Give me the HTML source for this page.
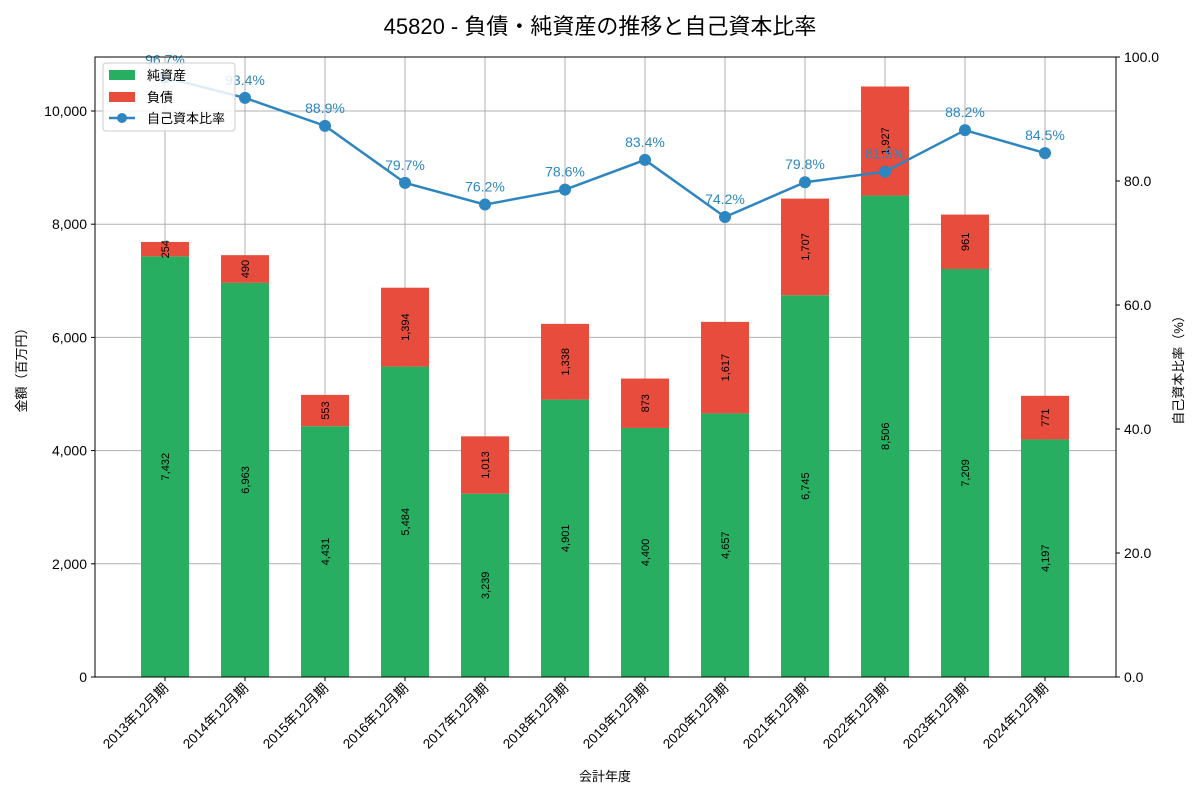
<!DOCTYPE html>
<html><head><meta charset="utf-8">
<style>
body{margin:0;background:#fff;}
svg text{font-family:"Liberation Sans","Noto Sans CJK JP",sans-serif;}
</style></head>
<body>
<svg id="chart" width="1200" height="800" xmlns="http://www.w3.org/2000/svg">
<text x="600" y="34" text-anchor="middle" font-size="22" fill="#000">45820 - 負債・純資産の推移と自己資本比率</text>
<g id="grid"></g>
<g id="bars"></g>
<g id="line"></g>
<rect x="95" y="57" width="1021" height="620" fill="none" stroke="#000" stroke-width="1"/>
<g id="axes"></g>
<text x="605" y="781" text-anchor="middle" font-size="13">会計年度</text>
<text transform="translate(26,367) rotate(-90)" text-anchor="middle" font-size="13">金額（百万円）</text>
<text transform="translate(1183,367) rotate(-90)" text-anchor="middle" font-size="13">自己資本比率（%）</text>
<g>
<rect x="103" y="63" width="132" height="68" fill="#fff" fill-opacity="0.85" stroke="#ccc" rx="3"/>
<rect x="109" y="70" width="26" height="10" fill="#27ae60"/>
<text x="147" y="80" font-size="13">純資産</text>
<rect x="109" y="92" width="26" height="10" fill="#e74c3c"/>
<text x="147" y="102" font-size="13">負債</text>
<line x1="109" y1="118" x2="135" y2="118" stroke="#2e86c1" stroke-width="2.5"/>
<circle cx="122" cy="118" r="5" fill="#2e86c1"/>
<text x="147" y="123" font-size="13">自己資本比率</text>
</g>
</svg>
<script>
const categories=["2013年12月期","2014年12月期","2015年12月期","2016年12月期","2017年12月期","2018年12月期","2019年12月期","2020年12月期","2021年12月期","2022年12月期","2023年12月期","2024年12月期"];
const netAssets=[7432,6963,4431,5484,3239,4901,4400,4657,6745,8506,7209,4197];
const liabilities=[254,490,553,1394,1013,1338,873,1617,1707,1927,961,771];
const ratios=[96.7,93.4,88.9,79.7,76.2,78.6,83.4,74.2,79.8,81.5,88.2,84.5];
const leftTicks=[0,2000,4000,6000,8000,10000];
const rightTicks=[0,20,40,60,80,100];
const NS="http://www.w3.org/2000/svg";
const X0=95,X1=1116,Y0=677,Y1=57,LMAX=10954;
const xs=i=>165+80*i;
const yl=v=>Y0-(v/LMAX)*(Y0-Y1);
const yr=v=>Y0-(v/100)*(Y0-Y1);
const fmt=v=>v.toLocaleString("en-US");
function mk(tag,attrs,parent,text){const e=document.createElementNS(NS,tag);for(const k in attrs)e.setAttribute(k,attrs[k]);if(text!==undefined)e.textContent=text;parent.appendChild(e);return e;}
const grid=document.getElementById("grid"),bars=document.getElementById("bars"),line=document.getElementById("line"),axes=document.getElementById("axes");
leftTicks.forEach(t=>{const y=yl(t);
 const g=mk("line",{x1:X0,x2:X1,y1:y,y2:y,stroke:"#b0b0b0","stroke-width":1},grid);
 
 
 mk("line",{x1:X0-4,x2:X0,y1:y,y2:y,stroke:"#000"},axes);
 const tx=mk("text",{x:X0-8,y:y+5,"text-anchor":"end","font-size":14},axes,fmt(t));
 
 
});
rightTicks.forEach(t=>{const y=yr(t);
 mk("line",{x1:X1,x2:X1+4,y1:y,y2:y,stroke:"#000"},axes);
 const tx=mk("text",{x:X1+8,y:y+5,"font-size":14},axes,t.toFixed(1));
 
 
});
categories.forEach((c,i)=>{const x=xs(i);
 const g=mk("line",{x1:x,x2:x,y1:Y1,y2:Y0,stroke:"#b0b0b0","stroke-width":1},grid);
 
 
 mk("line",{x1:x,x2:x,y1:Y0,y2:Y0+4,stroke:"#000"},axes);
 const tx=mk("text",{transform:`translate(${x+4},${Y0+12}) rotate(-45)`,"text-anchor":"end","font-size":13.5},axes,c);
 
 
 const n=netAssets[i],d=liabilities[i];
 const rn=mk("rect",{x:x-24,width:48,y:yl(n),height:Y0-yl(n),fill:"#27ae60"},bars);
 
 
 const rd=mk("rect",{x:x-24,width:48,y:yl(n+d),height:yl(n)-yl(n+d),fill:"#e74c3c"},bars);
 
 
 const ln=mk("text",{transform:`translate(${x+4},${yl(n/2)}) rotate(-90)`,"text-anchor":"middle","font-size":11},bars,fmt(n));
 
 
 const ld=mk("text",{transform:`translate(${x+4},${yl(n+d/2)}) rotate(-90)`,"text-anchor":"middle","font-size":11},bars,fmt(d));
 
 
});
const pts=ratios.map((r,i)=>`${xs(i)},${yr(r)}`).join(" ");
const pl=mk("polyline",{points:pts,fill:"none",stroke:"#2e86c1","stroke-width":2.5},line);


ratios.forEach((r,i)=>{
 const c=mk("circle",{cx:xs(i),cy:yr(r),r:6,fill:"#2e86c1"},line);
 
 
 const t=mk("text",{x:xs(i),y:yr(r)-13,"text-anchor":"middle","font-size":14,fill:"#2e86c1"},line,r.toFixed(1)+"%");
 
 
});
</script>
</body></html>
